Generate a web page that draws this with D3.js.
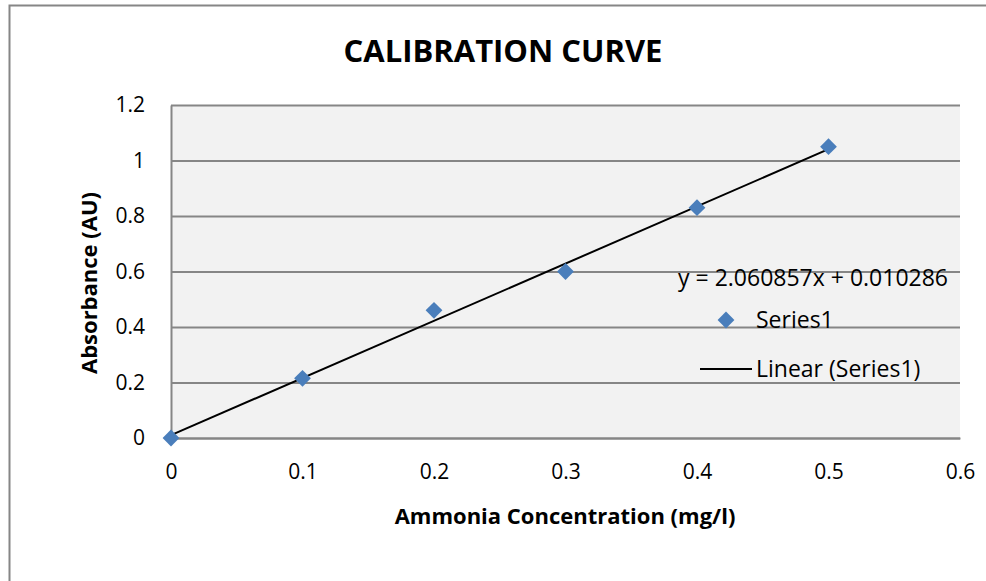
<!DOCTYPE html>
<html lang="en">
  <head>
    <meta charset="UTF-8" />
    <title>Calibration Curve</title>
    <script src="https://d3js.org/d3.v7.min.js"></script>
    <style>
      body {
        margin: 0;
        background: #fff;
      }
      svg text {
        font-family: "Open Sans", "DejaVu Sans", sans-serif;
        fill: #000;
      }
      .chart-title {
        font-size: 31px;
        font-weight: bold;
        text-anchor: middle;
      }
      .axis-title {
        font-size: 22px;
        font-weight: bold;
        text-anchor: middle;
      }
      .tick text {
        font-size: 21px;
      }
      .legend text {
        font-size: 23px;
      }
    </style>
  </head>
  <body>
    <svg id="chart" width="986" height="581"></svg>

    <script>
      // data
      var concentration = [0, 0.1, 0.2, 0.3, 0.4, 0.5];
      var absorbance = [0, 0.215, 0.46, 0.6, 0.83, 1.05];
      var xTicks = [0, 0.1, 0.2, 0.3, 0.4, 0.5, 0.6];
      var yTicks = [0, 0.2, 0.4, 0.6, 0.8, 1, 1.2];
      var trendSlope = 2.060857;
      var trendIntercept = 0.010286;
      var trendRange = [0, 0.5];

      var points = concentration.map(function (c, i) {
        return { x: c, y: absorbance[i] };
      });

      var svg = d3.select("#chart"),
        margin = { top: 105, right: 26, bottom: 143, left: 171 },
        width = +svg.attr("width") - margin.left - margin.right,
        height = +svg.attr("height") - margin.top - margin.bottom;

      // chart area border
      svg
        .append("rect")
        .attr("x", 9.5)
        .attr("y", 5.5)
        .attr("width", 1000)
        .attr("height", 600)
        .attr("fill", "#fff")
        .attr("stroke", "#868686")
        .attr("stroke-width", 2);

      var g = svg
        .append("g")
        .attr("transform", "translate(" + margin.left + "," + margin.top + ")");

      var x = d3.scaleLinear().domain([0, 0.6]).range([0, width]);
      var y = d3.scaleLinear().domain([0, 1.2]).range([height, 0]);

      // plot area
      g.append("rect")
        .attr("width", width)
        .attr("height", height)
        .attr("fill", "#f2f2f2");

      // y axis + gridlines
      var yAxis = g
        .append("g")
        .attr("class", "axis")
        .call(
          d3
            .axisLeft(y)
            .tickValues(yTicks)
            .tickSizeInner(-width)
            .tickSizeOuter(0)
            .tickPadding(26)
            .tickFormat(d3.format("~g"))
        );
      yAxis.select(".domain").attr("stroke", "#868686").attr("stroke-width", 2);
      yAxis.selectAll(".tick line").attr("stroke", "#868686").attr("stroke-width", 2);

      // x axis
      var xAxis = g
        .append("g")
        .attr("class", "axis")
        .attr("transform", "translate(0," + height + ")")
        .call(
          d3
            .axisBottom(x)
            .tickValues(xTicks)
            .tickSize(0)
            .tickPadding(26)
            .tickFormat(d3.format("~g"))
        );
      xAxis.select(".domain").attr("stroke", "#868686").attr("stroke-width", 2);
      svg.selectAll(".axis").attr("font-size", null).attr("font-family", null);

      // trendline from the fitted equation
      g.append("line")
        .attr("x1", x(trendRange[0]))
        .attr("y1", y(trendSlope * trendRange[0] + trendIntercept))
        .attr("x2", x(trendRange[1]))
        .attr("y2", y(trendSlope * trendRange[1] + trendIntercept))
        .attr("stroke", "#000")
        .attr("stroke-width", 2);

      // markers
      var diamond = d3.symbol().type(d3.symbolDiamond2).size(180);
      g.selectAll(".dot")
        .data(points)
        .enter()
        .append("path")
        .attr("class", "dot")
        .attr("d", diamond)
        .attr("transform", function (d) {
          return "translate(" + x(d.x) + "," + y(d.y) + ")";
        })
        .attr("fill", "#4a7ebb");

      // title
      svg
        .append("text")
        .attr("class", "chart-title")
        .attr("x", 503)
        .attr("y", 62)
        .text("CALIBRATION CURVE");

      // axis titles
      svg
        .append("text")
        .attr("class", "axis-title")
        .attr("x", 565)
        .attr("y", 524)
        .text("Ammonia Concentration (mg/l)");

      svg
        .append("text")
        .attr("class", "axis-title")
        .attr("transform", "translate(97,283) rotate(-90)")
        .text("Absorbance (AU)");

      // legend
      var legend = svg.append("g").attr("class", "legend");
      legend
        .append("text")
        .attr("x", 948)
        .attr("y", 286)
        .attr("text-anchor", "end")
        .text("y = " + trendSlope.toFixed(6) + "x + " + trendIntercept.toFixed(6));

      legend
        .append("path")
        .attr("d", diamond)
        .attr("transform", "translate(726,320)")
        .attr("fill", "#4a7ebb");
      legend.append("text").attr("x", 756).attr("y", 328).text("Series1");

      legend
        .append("line")
        .attr("x1", 700)
        .attr("x2", 752)
        .attr("y1", 369)
        .attr("y2", 369)
        .attr("stroke", "#000")
        .attr("stroke-width", 2);
      legend.append("text").attr("x", 756).attr("y", 377).text("Linear (Series1)");
    </script>
  </body>
</html>
